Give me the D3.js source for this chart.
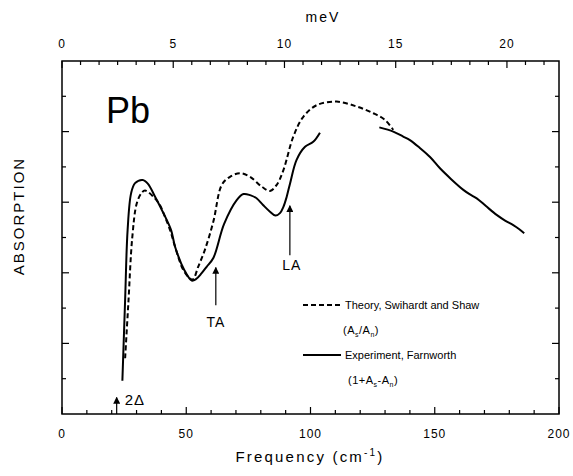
<!DOCTYPE html>
<html>
<head>
<meta charset="utf-8">
<script src="https://cdn.jsdelivr.net/npm/d3@7"></script>
<style>
  html, body { margin: 0; padding: 0; background: #fff; }
  svg text { font-family: "Liberation Sans", Arial, Helvetica, sans-serif; fill: #000; }
</style>
</head>
<body>
<svg id="chart" width="573" height="476"></svg>
<script>
// Frequency (cm^-1) and absorption (arbitrary units)
const theoryFreq = [25.4, 26.7, 28.3, 30.1, 32.1, 33.4, 36.7, 39.4, 41.4, 43.5, 45.5, 48.8, 51.5, 52.7, 54.8, 57.5, 60.9, 64.3, 67.6, 71.6, 75.7, 80.4, 83.7, 86.4, 89.1, 93.1, 97.1, 102.5, 110.5, 118.6, 125.3, 130.0, 133.3];
const theoryAbs  = [1.58, 3.14, 5.02, 5.97, 6.27, 6.33, 6.16, 5.92, 5.59, 5.21, 4.74, 4.08, 3.84, 3.81, 4.17, 4.65, 5.45, 6.49, 6.72, 6.82, 6.72, 6.44, 6.32, 6.49, 6.91, 7.86, 8.42, 8.75, 8.85, 8.71, 8.52, 8.33, 8.05];

// Experiment measured in two separate frequency ranges
const exptLowFreq = [24.3, 25.4, 26.4, 27.8, 29.4, 32.5, 34.6, 37.4, 40.6, 43.9, 45.5, 49.2, 52.2, 53.9, 56.2, 58.2, 60.9, 65.2, 70.3, 73.0, 75.7, 78.3, 80.9, 83.7, 85.9, 87.7, 89.1, 90.4, 91.8, 94.4, 97.8, 101.1, 103.8];
const exptLowAbs  = [0.94, 3.23, 5.21, 6.25, 6.54, 6.63, 6.52, 6.16, 5.72, 5.21, 4.74, 4.08, 3.78, 3.82, 3.99, 4.17, 4.42, 5.38, 6.06, 6.23, 6.20, 6.11, 5.92, 5.73, 5.62, 5.69, 5.87, 6.15, 6.54, 7.20, 7.57, 7.71, 7.97];
const exptHighFreq = [127.7, 133.3, 137.3, 140.0, 144.1, 148.1, 152.1, 156.5, 161.5, 164.2, 166.9, 170.6, 174.9, 178.3, 181.6, 183.9, 186.0];
const exptHighAbs  = [8.12, 8.00, 7.86, 7.76, 7.53, 7.28, 6.96, 6.66, 6.35, 6.22, 6.11, 5.89, 5.64, 5.48, 5.35, 5.24, 5.12];

// Axis ticks
const freqTicks = [0, 50, 100, 150, 200];
const mevTicks = [0, 5, 10, 15, 20];

// Marked features: gap edge and phonon peaks
const markerNames = ["2Δ", "TA", "LA"];
const markerFreq  = [22, 61.9, 91.7];

const svg = d3.select("#chart");
const L = 62, R = 559, T = 61, B = 414;

const x = d3.scaleLinear().domain([0, 200]).range([L, R]);
const xTop = d3.scaleLinear().domain([0, 22.34]).range([L, R]);
const y = d3.scaleLinear().domain([0, 10]).range([B, T]);

const tickFont = "12px";

// Frame
svg.append("rect").attr("x", L).attr("y", T).attr("width", R - L).attr("height", B - T)
  .attr("fill", "none").attr("stroke", "#000").attr("stroke-width", 1.5);

// Bottom axis (ticks inward)
const bottomAxis = svg.append("g").attr("transform", `translate(0,${B})`);
x.ticks(20).forEach(v => {
  const major = v % 50 === 0;
  bottomAxis.append("line").attr("x1", x(v)).attr("x2", x(v)).attr("y1", 0).attr("y2", major ? -7 : -4)
    .attr("stroke", "#000").attr("stroke-width", 1.2);
});
freqTicks.forEach(v => {
  bottomAxis.append("text").attr("x", x(v)).attr("y", 24).attr("text-anchor", "middle")
    .style("font-size", tickFont).style("letter-spacing", "1px").text(v);
});

// Top axis in meV
const topAxis = svg.append("g").attr("transform", `translate(0,${T})`);
d3.range(0, 27).map(i => i * 5 / 6).filter(v => v <= 22.34 + 1e-6).forEach((v, i) => {
  const major = i % 6 === 0;
  topAxis.append("line").attr("x1", xTop(v)).attr("x2", xTop(v)).attr("y1", 0).attr("y2", major ? 7 : 4)
    .attr("stroke", "#000").attr("stroke-width", 1.2);
});
mevTicks.forEach(v => {
  topAxis.append("text").attr("x", xTop(v)).attr("y", -13).attr("text-anchor", "middle")
    .style("font-size", tickFont).style("letter-spacing", "1px").text(v);
});

// Left and right axes: unlabeled ticks
d3.range(1, 10).forEach(v => {
  const major = v % 2 === 0;
  const len = major ? 7 : 4;
  svg.append("line").attr("x1", L).attr("x2", L + len).attr("y1", y(v)).attr("y2", y(v))
    .attr("stroke", "#000").attr("stroke-width", 1.2);
  svg.append("line").attr("x1", R).attr("x2", R - len).attr("y1", y(v)).attr("y2", y(v))
    .attr("stroke", "#000").attr("stroke-width", 1.2);
});

// Axis titles
svg.append("text").attr("x", 323).attr("y", 22).attr("text-anchor", "middle")
  .style("font-size", "14px").style("letter-spacing", "2px").text("meV");

const xt = svg.append("text").attr("x", 310).attr("y", 462).attr("text-anchor", "middle")
  .style("font-size", "15px").style("letter-spacing", "2.2px");
xt.append("tspan").text("Frequency (cm");
xt.append("tspan").attr("dy", -6).style("font-size", "10px").text("-1");
xt.append("tspan").attr("dy", 6).text(")");

svg.append("text").attr("transform", "translate(24,216) rotate(-90)").attr("text-anchor", "middle")
  .style("font-size", "15px").style("letter-spacing", "2px").text("ABSORPTION");

// Element label
svg.append("text").attr("x", 106).attr("y", 123).style("font-size", "36px").text("Pb");

// Curves
const line = d3.line().x(d => x(d[0])).y(d => y(d[1])).curve(d3.curveCatmullRom.alpha(0.5));
const theory = d3.zip(theoryFreq, theoryAbs);
const exptLow = d3.zip(exptLowFreq, exptLowAbs);
const exptHigh = d3.zip(exptHighFreq, exptHighAbs);

svg.append("path").datum(theory).attr("d", line).attr("fill", "none")
  .attr("stroke", "#000").attr("stroke-width", 2).attr("stroke-dasharray", "5,3");
[exptLow, exptHigh].forEach(seg => {
  svg.append("path").datum(seg).attr("d", line).attr("fill", "none")
    .attr("stroke", "#000").attr("stroke-width", 2);
});

// Arrows marking features
const defs = svg.append("defs");
defs.append("marker").attr("id", "head").attr("viewBox", "0 0 10 10").attr("refX", 9).attr("refY", 5)
  .attr("markerWidth", 7).attr("markerHeight", 7).attr("markerUnits", "userSpaceOnUse")
  .attr("orient", "auto")
  .append("path").attr("d", "M0,0 L10,5 L0,10 z").attr("fill", "#000");

const arrowSpan = [[0, 0.47], [3.08, 4.15], [4.5, 5.9]];
markerFreq.forEach((f, i) => {
  svg.append("line").attr("x1", x(f)).attr("x2", x(f))
    .attr("y1", y(arrowSpan[i][0])).attr("y2", y(arrowSpan[i][1]))
    .attr("stroke", "#000").attr("stroke-width", 1.2).attr("marker-end", "url(#head)");
});
svg.append("text").attr("x", x(markerFreq[0]) + 8).attr("y", 405)
  .style("font-size", "15px").style("letter-spacing", "1px").text(markerNames[0]);
svg.append("text").attr("x", x(markerFreq[1])).attr("y", 327).attr("text-anchor", "middle")
  .style("font-size", "14px").style("letter-spacing", "1px").text(markerNames[1]);
svg.append("text").attr("x", x(markerFreq[2]) + 2).attr("y", 270).attr("text-anchor", "middle")
  .style("font-size", "14px").style("letter-spacing", "1px").text(markerNames[2]);

// Legend
const leg = svg.append("g");
leg.append("line").attr("x1", 303).attr("x2", 341).attr("y1", 305).attr("y2", 305)
  .attr("stroke", "#000").attr("stroke-width", 2).attr("stroke-dasharray", "5,3");
leg.append("text").attr("x", 345).attr("y", 309).style("font-size", "11px")
  .text("Theory, Swihardt and Shaw");
const t1 = leg.append("text").attr("x", 343).attr("y", 334).style("font-size", "11px").style("letter-spacing", "0.5px");
t1.append("tspan").text("(A");
t1.append("tspan").attr("dy", 3).style("font-size", "7px").text("s");
t1.append("tspan").attr("dy", -3).text("/A");
t1.append("tspan").attr("dy", 3).style("font-size", "7px").text("n");
t1.append("tspan").attr("dy", -3).text(")");

leg.append("line").attr("x1", 303).attr("x2", 341).attr("y1", 355).attr("y2", 355)
  .attr("stroke", "#000").attr("stroke-width", 2);
leg.append("text").attr("x", 345).attr("y", 359).style("font-size", "11px")
  .text("Experiment, Farnworth");
const t2 = leg.append("text").attr("x", 348).attr("y", 384).style("font-size", "11px").style("letter-spacing", "0.5px");
t2.append("tspan").text("(1+A");
t2.append("tspan").attr("dy", 3).style("font-size", "7px").text("s");
t2.append("tspan").attr("dy", -3).text("-A");
t2.append("tspan").attr("dy", 3).style("font-size", "7px").text("n");
t2.append("tspan").attr("dy", -3).text(")");
</script>
</body>
</html>
